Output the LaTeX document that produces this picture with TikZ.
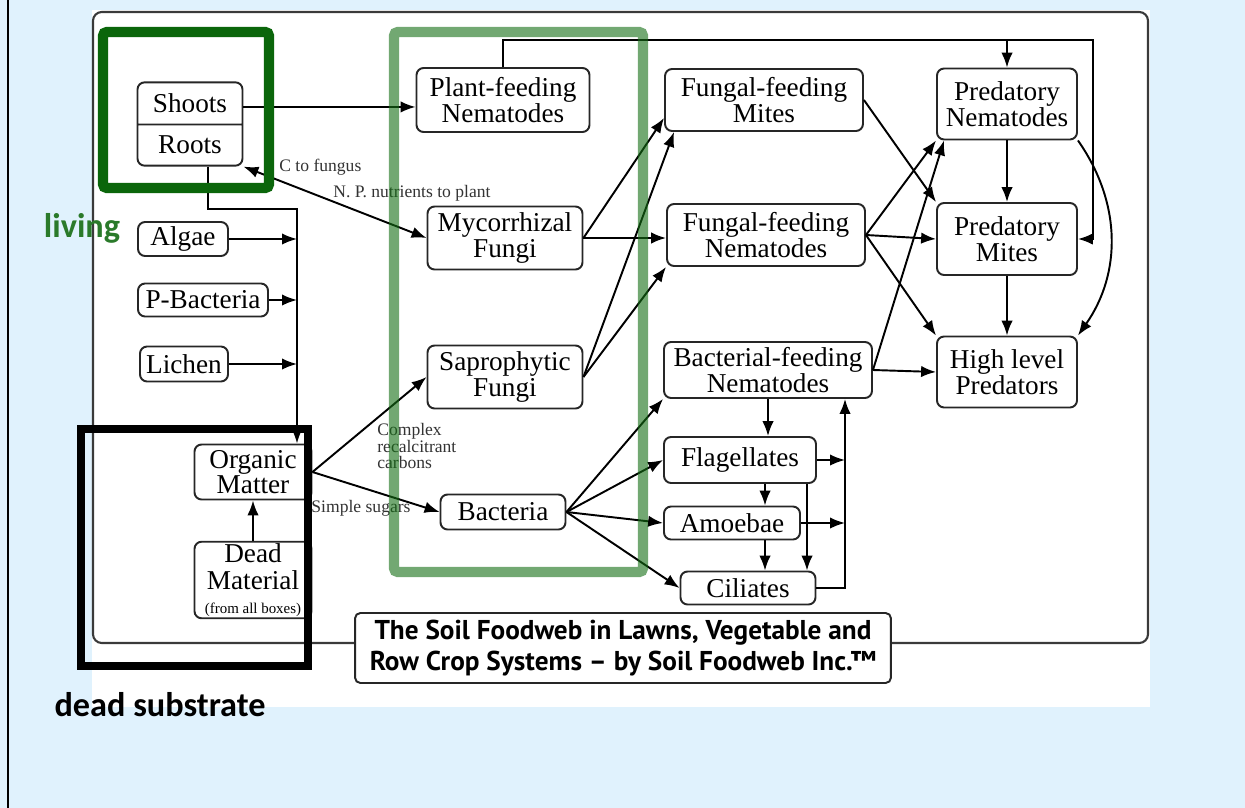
\documentclass[tikz,border=0pt]{standalone}
\usepackage{fontspec}
\setmainfont{Liberation Serif}
\newfontfamily\calfont{Carlito}
\newfontfamily\ptfont{PT Sans}
\usepackage{tikz}
\usetikzlibrary{shapes,arrows,arrows.meta,positioning,calc}
\definecolor{sky}{HTML}{E0F2FD}
\definecolor{livegreen}{HTML}{0B660B}
\definecolor{livetext}{HTML}{2A7A2A}
\definecolor{soilgreen}{RGB}{20,110,20}
\definecolor{framegray}{HTML}{3A3A3A}
\newcommand{\cellfont}{\fontsize{15.5}{11.5}\selectfont}
\newcommand{\notefont}{\fontsize{10}{9}\selectfont}

\begin{document}
\begin{tikzpicture}[
    x=0.02cm, y=-0.02cm,
    box/.style={rectangle, rounded corners=4pt, draw=black!85, line width=1.1pt, fill=white, font=\cellfont, align=center, inner sep=1pt},
    arrow/.style={-{Latex[length=8.5pt,width=6.5pt]}, line width=1.1pt},
    twoway/.style={{Latex[length=8.5pt,width=6.5pt]}-{Latex[length=8.5pt,width=6.5pt]}, line width=1.1pt},
    note/.style={font=\notefont, text=black!80, align=left, inner sep=0pt},
    tag/.style={font=\calfont\bfseries\fontsize{19.5}{22}\selectfont, inner sep=0pt},
    hilite/.style={line width=5.7pt, rounded corners=2pt}
]
\useasboundingbox (0,0) rectangle (1245,808);

% Page and frame
\fill[sky] (0,0) rectangle (1245,808);
\draw[line width=0.8pt] (8,0) -- (8,808);
\fill[white] (92,10) rectangle (1150,707);
\draw[framegray, line width=1.2pt, rounded corners=5pt] (93,12) rectangle (1148,643);

% Producers
\node[box, rectangle split, rectangle split parts=2, minimum width=2.1cm, inner ysep=6pt] (plant) at (190,124) {Shoots\nodepart{two}Roots};
\node[box, minimum width=1.8cm, minimum height=0.68cm] (algae) at (183,239) {Algae};
\node[box, minimum width=2.6cm, minimum height=0.66cm] (pbact) at (203,300) {P-Bacteria};
\node[box, minimum width=1.76cm, minimum height=0.7cm] (lichen) at (184,364) {Lichen};

% Organic matter
\node[box, minimum width=2.34cm, minimum height=1.1cm] (organic) at (253,472) {Organic\\Matter};
\node[box, minimum width=2.34cm, minimum height=1.5cm] (deadmat) at (253,580) {Dead\\[4pt]Material\\[2pt]{\fontsize{8.5}{9}\selectfont(from all boxes)}};

% First consumers
\node[box, minimum width=3.46cm, minimum height=1.28cm] (pfn) at (503,100) {Plant-feeding\\Nematodes};
\node[box, minimum width=3.1cm, minimum height=1.26cm] (myco) at (505,238) {Mycorrhizal\\Fungi};
\node[box, minimum width=3.1cm, minimum height=1.26cm] (sapro) at (505,377) {Saprophytic\\Fungi};
\node[box, minimum width=2.5cm, minimum height=0.7cm] (bact) at (503,512) {Bacteria};

% Second level
\node[box, minimum width=3.96cm, minimum height=1.24cm] (ffm) at (764,100) {Fungal-feeding\\Mites};
\node[box, minimum width=3.96cm, minimum height=1.24cm] (ffn) at (766,235) {Fungal-feeding\\Nematodes};
\node[box, minimum width=4.16cm, minimum height=1.12cm] (bfn) at (768,370) {Bacterial-feeding\\Nematodes};
\node[box, minimum width=3.04cm, minimum height=0.92cm] (flag) at (740,460) {Flagellates};
\node[box, minimum width=2.72cm, minimum height=0.66cm] (amoeba) at (732,523) {Amoebae};
\node[box, minimum width=2.7cm, minimum height=0.66cm] (cil) at (748,588) {Ciliates};

% Predators
\node[box, minimum width=2.8cm, minimum height=1.42cm] (pn) at (1007,104) {Predatory\\Nematodes};
\node[box, minimum width=2.8cm, minimum height=1.44cm] (pm) at (1007,239) {Predatory\\Mites};
\node[box, minimum width=2.8cm, minimum height=1.42cm] (hlp) at (1007,372) {High level\\Predators};

% Title
\node[box, minimum width=10.72cm, minimum height=1.4cm, rounded corners=3pt, font=\ptfont\bfseries\fontsize{15.5}{17.5}\selectfont] (title) at (623,648) {The Soil Foodweb in Lawns, Vegetable and\\Row Crop Systems – by Soil Foodweb Inc.™};

% Helper points
\coordinate (sx) at ($(plant.north east)!0.3!(plant.south east)$);
\coordinate (trunk) at (297,209);
\coordinate (ne) at (1093,40);
\coordinate (rs) at (845,0);
\coordinate (col) at (765,0);
\coordinate (col2) at (807,0);

% Arrows
\draw[arrow] (sx) -- (sx -| pfn.west);
\draw[twoway] (plant.south east) -- (myco.west);
\draw[arrow] ([xshift=0.36cm]plant.south) |- (trunk) -- (trunk |- organic.north);
\draw[arrow] (algae.east) -- (algae.east -| trunk);
\draw[arrow] (pbact.east) -- (pbact.east -| trunk);
\draw[arrow] (lichen.east) -- (lichen.east -| trunk);
\draw[arrow] (deadmat) -- (organic);
\draw[arrow] (organic.east) -- (sapro.west);
\draw[arrow] (organic.east) -- (bact.west);
\draw[arrow] (pfn.north) |- (ne) |- (pm.east);
\draw[arrow] (pn.north |- ne) -- (pn.north);
\draw[arrow] (myco.east) -- ([yshift=0.28cm]ffm.south west);
\draw[arrow] (myco.east) -- (myco.east -| ffn.west);
\draw[arrow] (sapro.east) -- ([xshift=0.2cm]ffm.south west);
\draw[arrow] (sapro.east) -- (ffn.south west);
\draw[arrow] (bact.east) -- (bfn.south west);
\draw[arrow] (bact.east) -- (flag.west);
\draw[arrow] (bact.east) -- (amoeba.west);
\draw[arrow] (bact.east) -- (cil.west);
\draw[arrow] (ffm.east) -- (pm.north west);
\draw[arrow] (ffn.east) -- (pn.south west);
\draw[arrow] (ffn.east) -- (pm.west);
\draw[arrow] (ffn.east) -- (hlp.north west);
\draw[arrow] (bfn.east) -- (hlp.west);
\draw[arrow] (bfn.east) -- ([xshift=0.16cm]pn.south west);
\draw[arrow] (bfn.south) -- (bfn.south |- flag.north);
\draw[arrow] (flag.east) -- (flag.east -| rs);
\draw[arrow] (amoeba.east) -- (amoeba.east -| rs);
\draw[arrow] (cil.east) -| (rs |- bfn.south);
\draw[arrow] (flag.south -| col) -- (amoeba.north -| col);
\draw[arrow] (amoeba.south -| col) -- (cil.north -| col);
\draw[arrow] (flag.south -| col2) -- (cil.north -| col2);
\draw[arrow] (pn) -- (pm);
\draw[arrow] (pm) -- (hlp);
\draw[arrow] (pn.south east) to[bend left=35] (hlp.north east);

% Edge notes
\node[note, anchor=west] (cfungus) at (279,167) {C to fungus};
\node[note, anchor=west] (npnut) at (333,193) {N. P. nutrients to plant};
\node[note, anchor=west] (complex) at (377,446) {Complex\\recalcitrant\\carbons};
\node[note] (sugars) at (361,508) {Simple sugars};

% Highlight frames
\draw[hilite, livegreen] (103,32) rectangle (269,188);
\draw[hilite, soilgreen, draw opacity=0.6] (394,32) rectangle (643,572);
\draw[hilite, line width=4.5pt, black, rounded corners=0pt] (81,429) rectangle (308,666);

% Frame labels
\node[tag, text=livetext] (living) at (82,228) {living};
\node[tag] (deadtag) at (160,705) {dead substrate};
\end{tikzpicture}
\end{document}
